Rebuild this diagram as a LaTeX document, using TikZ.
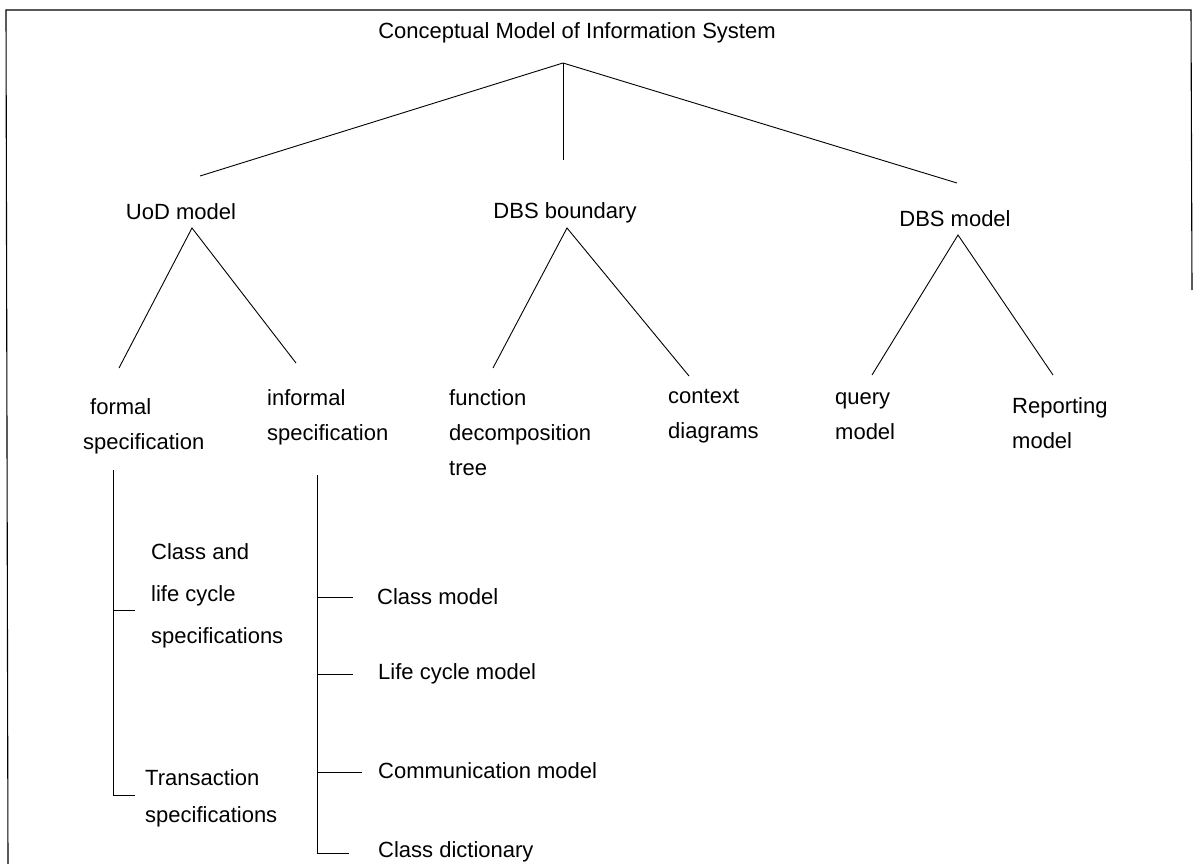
\documentclass[tikz,border=0pt]{standalone}
\usepackage{fontspec}
\setmainfont{Liberation Sans}
\begin{document}
\begin{tikzpicture}[x=1pt,y=-1pt,
  lbl/.style={font=\fontsize{22}{35}\selectfont, align=left, inner sep=0pt, anchor=west},
  wide/.style={font=\fontsize{22}{42}\selectfont},
  edge/.style={line width=0.9pt},
  frame/.style={line width=1.1pt}]
\useasboundingbox (0,0) rectangle (1195,864);

% partial frame
\draw[frame] (8,864) -- (6,10) -- (1191,10) -- (1192,290);

% labels
\node[lbl, anchor=center] (title) at (577,33) {Conceptual Model of Information System};
\node[lbl, anchor=center] (uod) at (181,212) {UoD model};
\node[lbl, anchor=center] (dbsb) at (565,213) {DBS boundary};
\node[lbl, anchor=center] (dbsm) at (955,219) {DBS model};

\node[lbl] (formal) at (83,426) {\hspace{7pt}formal\\specification};
\node[lbl] (informal) at (267,417) {informal\\specification};
\node[lbl] (fdt) at (449,433) {function\\decomposition\\tree};
\node[lbl] (ctx) at (668,416) {context\\diagrams};
\node[lbl] (query) at (835,416) {query\\model};
\node[lbl] (report) at (1012,423) {Reporting\\model};

\node[lbl, wide] (clcs) at (151,596) {Class and\\life cycle\\specifications};
\node[lbl, font=\fontsize{22}{37}\selectfont] (trans) at (145,798) {Transaction\\specifications};

\node[lbl] (cm) at (377,597) {Class model};
\node[lbl] (lcm) at (378,674) {Life cycle model};
\node[lbl] (comm) at (378,771) {Communication model};
\node[lbl] (cd) at (378,852) {Class dictionary};

% branch points and free ends
\coordinate (apex) at (563,63);
\coordinate (uodTop) at (200,176);
\coordinate (dbsbTop) at (563,160);
\coordinate (dbsmTop) at (957,183);

\coordinate (uodApex) at (192,228);
\coordinate (formalTop) at (119,368);
\coordinate (informalTop) at (296,363);

\coordinate (dbsbApex) at (567,228);
\coordinate (fdtTop) at (493,368);
\coordinate (ctxTop) at (689,376);

\coordinate (dbsmApex) at (958,235);
\coordinate (queryTop) at (872,375);
\coordinate (reportTop) at (1053,375);

\coordinate (fTrunkTop) at (113,470);
\coordinate (fTick1) at (113,610);
\coordinate (fTick2) at (113,795);
\coordinate (fEnd1) at (135,610);
\coordinate (fEnd2) at (135,795);

\coordinate (iTrunkTop) at (317,475);
\coordinate (iTick1) at (317,597);
\coordinate (iTick2) at (317,674);
\coordinate (iTick3) at (317,772);
\coordinate (iTick4) at (317,853);
\coordinate (iEnd1) at (353,597);
\coordinate (iEnd2) at (353,674);
\coordinate (iEnd3) at (362,772);
\coordinate (iEnd4) at (349,853);

% top level
\draw[edge] (uodTop) -- (apex) -- (dbsmTop);
\draw[edge] (apex) -- (dbsbTop);

% second level
\draw[edge] (formalTop) -- (uodApex) -- (informalTop);
\draw[edge] (fdtTop) -- (dbsbApex) -- (ctxTop);
\draw[edge] (queryTop) -- (dbsmApex) -- (reportTop);

% formal specification parts
\draw[edge] (fTrunkTop) -- (fTick2) -- (fEnd2);
\draw[edge] (fTick1) -- (fEnd1);

% informal specification parts
\draw[edge] (iTrunkTop) -- (iTick4) -- (iEnd4);
\draw[edge] (iTick1) -- (iEnd1);
\draw[edge] (iTick2) -- (iEnd2);
\draw[edge] (iTick3) -- (iEnd3);
\end{tikzpicture}
\end{document}
